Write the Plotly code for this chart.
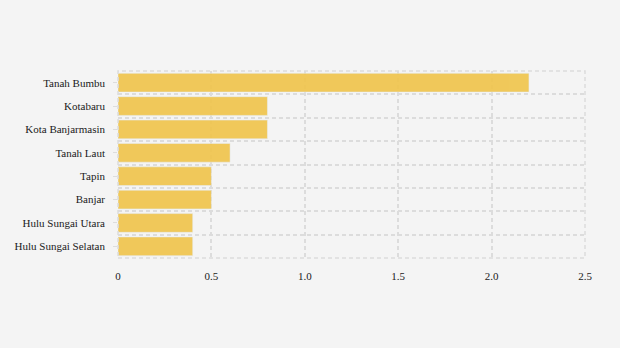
import plotly.graph_objects as go

# Regencies / cities, top to bottom
regions = [
    "Tanah Bumbu",
    "Kotabaru",
    "Kota Banjarmasin",
    "Tanah Laut",
    "Tapin",
    "Banjar",
    "Hulu Sungai Utara",
    "Hulu Sungai Selatan",
]
values = [2.2, 0.8, 0.8, 0.6, 0.5, 0.5, 0.4, 0.4]

x_ticks = [0, 0.5, 1.0, 1.5, 2.0, 2.5]
x_tick_text = ["0", "0.5", "1.0", "1.5", "2.0", "2.5"]

bar_color = "#f0c44a"
grid_color = "#dcdcdc"
grid_dash = "4px,3px"
bg = "#f4f4f4"
font_family = "Liberation Serif, Times New Roman, serif"

fig = go.Figure()
fig.add_trace(go.Bar(
    x=values, y=regions, orientation="h",
    marker=dict(color=bar_color, line=dict(width=0)),
    opacity=0.9,
    hoverinfo="x+y",
))
# companion trace that carries the centred category ticks
fig.add_trace(go.Bar(
    x=values, y=regions, orientation="h", yaxis="y2",
    marker=dict(color="rgba(0,0,0,0)"), hoverinfo="skip", showlegend=False,
))

fig.update_layout(
    width=620, height=348,
    margin=dict(l=118, r=35, t=71, b=90),
    paper_bgcolor=bg, plot_bgcolor=bg,
    font=dict(family=font_family, size=11, color="#1a1a1a"),
    showlegend=False,
    bargap=0.2,
    barmode="overlay",
    xaxis=dict(
        range=[0, 2.5],
        tickvals=x_ticks, ticktext=x_tick_text,
        showgrid=True, gridcolor=grid_color, griddash=grid_dash, gridwidth=1.5,
        zeroline=False, showline=False,
        ticks="outside", ticklen=8, tickcolor="rgba(0,0,0,0)",
        fixedrange=True,
    ),
    yaxis=dict(
        type="category",
        categoryorder="array", categoryarray=regions[::-1],
        tickson="boundaries",
        showgrid=True, gridcolor=grid_color, griddash=grid_dash, gridwidth=1.5,
        zeroline=False, showline=False,
        ticks="", ticklabelstandoff=12,
        fixedrange=True,
    ),
    yaxis2=dict(
        type="category", overlaying="y", side="left",
        categoryorder="array", categoryarray=regions[::-1],
        showgrid=False, showticklabels=False,
        ticks="outside", ticklen=4, tickcolor="#dddddd",
        zeroline=False, showline=False, fixedrange=True,
    ),
    # dashed frame around the plotting area, continuing the grid pattern
    shapes=[dict(
        type="rect", xref="x domain", yref="y domain",
        x0=0, x1=1, y0=0, y1=1,
        line=dict(color=grid_color, width=1.5, dash=grid_dash),
        layer="above",
    )],
)

fig.write_html("out.html")
